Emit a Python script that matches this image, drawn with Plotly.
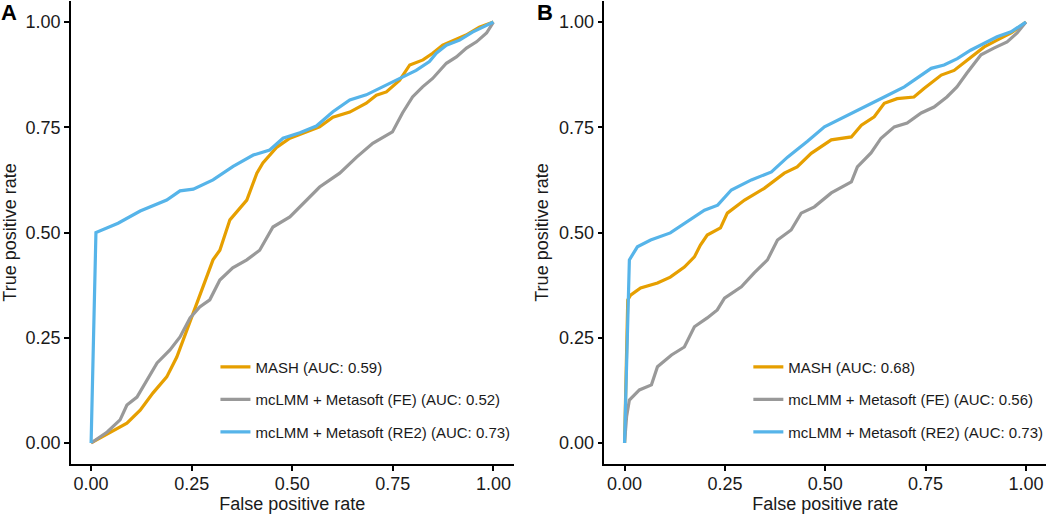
import plotly.graph_objects as go

# ---------------- data ----------------
labels_a = ["MASH (AUC: 0.59)", "mcLMM + Metasoft (FE) (AUC: 0.52)", "mcLMM + Metasoft (RE2) (AUC: 0.73)"]
labels_b = ["MASH (AUC: 0.68)", "mcLMM + Metasoft (FE) (AUC: 0.56)", "mcLMM + Metasoft (RE2) (AUC: 0.73)"]
colors = ["#E69F00", "#999999", "#56B4E9"]

# Panel A
a_mash_fpr = [0.0, 0.047, 0.089, 0.122, 0.154, 0.188, 0.213, 0.238, 0.263, 0.278, 0.295, 0.303, 0.320, 0.345, 0.387,
              0.412, 0.427, 0.462, 0.494, 0.536, 0.568, 0.601, 0.643, 0.684, 0.709, 0.734, 0.767, 0.792, 0.825,
              0.849, 0.874, 0.932, 0.965, 1.0]
a_mash_tpr = [0.0, 0.024, 0.047, 0.078, 0.119, 0.157, 0.204, 0.268, 0.332, 0.371, 0.411, 0.435, 0.458, 0.530, 0.577,
              0.641, 0.665, 0.703, 0.724, 0.739, 0.751, 0.774, 0.786, 0.807, 0.826, 0.834, 0.862, 0.898, 0.910,
              0.926, 0.945, 0.969, 0.988, 1.0]

a_fe_fpr = [0.0, 0.040, 0.072, 0.089, 0.114, 0.139, 0.164, 0.196, 0.221, 0.246, 0.270, 0.295, 0.320, 0.352, 0.387,
            0.419, 0.452, 0.494, 0.536, 0.568, 0.618, 0.660, 0.700, 0.749, 0.774, 0.799, 0.824, 0.849, 0.883,
            0.908, 0.933, 0.958, 0.983, 1.0]
a_fe_tpr = [0.0, 0.026, 0.055, 0.090, 0.109, 0.150, 0.190, 0.221, 0.252, 0.297, 0.323, 0.340, 0.387, 0.416, 0.435,
            0.458, 0.513, 0.537, 0.577, 0.608, 0.641, 0.679, 0.712, 0.739, 0.784, 0.822, 0.846, 0.866, 0.902,
            0.917, 0.938, 0.953, 0.974, 1.0]

a_re2_fpr = [0.0, 0.012, 0.067, 0.122, 0.188, 0.221, 0.254, 0.303, 0.353, 0.403, 0.444, 0.477, 0.519, 0.560, 0.601,
             0.643, 0.684, 0.726, 0.767, 0.808, 0.841, 0.858, 0.883, 0.916, 0.948, 1.0]
a_re2_tpr = [0.0, 0.500, 0.522, 0.551, 0.577, 0.599, 0.603, 0.625, 0.657, 0.684, 0.696, 0.724, 0.737, 0.753, 0.787,
             0.815, 0.827, 0.847, 0.866, 0.885, 0.906, 0.926, 0.945, 0.957, 0.976, 1.0]

# Panel B
b_mash_fpr = [0.0, 0.008, 0.015, 0.040, 0.082, 0.114, 0.149, 0.174, 0.189, 0.206, 0.239, 0.256, 0.299, 0.348, 0.398,
              0.430, 0.465, 0.515, 0.565, 0.590, 0.622, 0.647, 0.679, 0.721, 0.746, 0.789, 0.821, 0.853, 0.896,
              0.928, 0.963, 1.0]
b_mash_tpr = [0.0, 0.340, 0.351, 0.368, 0.380, 0.394, 0.418, 0.442, 0.470, 0.494, 0.511, 0.546, 0.577, 0.605, 0.641,
              0.656, 0.688, 0.720, 0.727, 0.755, 0.775, 0.807, 0.818, 0.822, 0.842, 0.874, 0.885, 0.909, 0.941,
              0.957, 0.974, 1.0]

b_fe_fpr = [0.0, 0.005, 0.012, 0.037, 0.067, 0.082, 0.117, 0.149, 0.174, 0.206, 0.231, 0.249, 0.291, 0.323, 0.356,
            0.381, 0.415, 0.440, 0.473, 0.515, 0.565, 0.580, 0.614, 0.639, 0.672, 0.704, 0.739, 0.771, 0.803,
            0.828, 0.853, 0.888, 0.920, 0.953, 0.978, 1.0]
b_fe_tpr = [0.0, 0.062, 0.102, 0.126, 0.138, 0.181, 0.209, 0.228, 0.276, 0.297, 0.316, 0.344, 0.371, 0.404, 0.435,
            0.482, 0.506, 0.546, 0.561, 0.594, 0.620, 0.656, 0.689, 0.724, 0.751, 0.760, 0.784, 0.798, 0.822,
            0.846, 0.879, 0.922, 0.938, 0.953, 0.974, 1.0]

b_re2_fpr = [0.0, 0.012, 0.032, 0.065, 0.114, 0.149, 0.199, 0.232, 0.266, 0.316, 0.366, 0.406, 0.455, 0.498, 0.547,
             0.597, 0.647, 0.697, 0.729, 0.764, 0.796, 0.829, 0.862, 0.903, 0.928, 0.963, 1.0]
b_re2_tpr = [0.0, 0.435, 0.466, 0.482, 0.499, 0.522, 0.553, 0.565, 0.601, 0.625, 0.644, 0.679, 0.716, 0.751, 0.775,
             0.798, 0.822, 0.846, 0.866, 0.890, 0.898, 0.913, 0.933, 0.953, 0.965, 0.977, 1.0]

tick_vals = [0.0, 0.25, 0.5, 0.75, 1.0]
tick_text = ["0.00", "0.25", "0.50", "0.75", "1.00"]

# ---------------- figure ----------------
fig = go.Figure()
FONT = "Liberation Sans, Arial, sans-serif"

panel_a = [(a_mash_fpr, a_mash_tpr), (a_fe_fpr, a_fe_tpr), (a_re2_fpr, a_re2_tpr)]
panel_b = [(b_mash_fpr, b_mash_tpr), (b_fe_fpr, b_fe_tpr), (b_re2_fpr, b_re2_tpr)]

for i, ((fx, ty), name) in enumerate(zip(panel_a, labels_a)):
    fig.add_trace(go.Scatter(x=fx, y=ty, mode="lines", name=name, line=dict(color=colors[i], width=3.2),
                             xaxis="x", yaxis="y", legend="legend", legendgroup=f"a{i}"))
for i, ((fx, ty), name) in enumerate(zip(panel_b, labels_b)):
    fig.add_trace(go.Scatter(x=fx, y=ty, mode="lines", name=name, line=dict(color=colors[i], width=3.2),
                             xaxis="x2", yaxis="y2", legend="legend2", legendgroup=f"b{i}"))

axis_common = dict(range=[-0.05, 1.05], tickvals=tick_vals, ticktext=tick_text, showgrid=False, zeroline=False,
                   showline=True, linecolor="black", linewidth=1.5, ticks="outside", ticklen=5, tickwidth=1.5,
                   tickcolor="black", automargin=False,
                   tickfont=dict(size=18, color="#1a1a1a", family=FONT))

legend_common = dict(font=dict(size=15, color="#1a1a1a", family=FONT), bgcolor="rgba(0,0,0,0)",
                     tracegroupgap=10, traceorder="grouped", xanchor="left", yanchor="top")

fig.update_layout(
    template="none",
    width=1050, height=514,
    margin=dict(l=71, r=3, t=1, b=50, autoexpand=False),
    paper_bgcolor="white", plot_bgcolor="white",
    font=dict(family=FONT, color="#1a1a1a"),
    xaxis=dict(domain=[0.0, 0.4534], anchor="y", ticklabelstandoff=-2,
               title=dict(text="False positive rate", font=dict(size=18), standoff=6), **axis_common),
    yaxis=dict(domain=[0.0, 1.0], anchor="x",
               title=dict(text="True positive rate", font=dict(size=18), standoff=6), **axis_common),
    xaxis2=dict(domain=[0.5466, 0.9990], anchor="y2", ticklabelstandoff=-2,
                title=dict(text="False positive rate", font=dict(size=18), standoff=6), **axis_common),
    yaxis2=dict(domain=[0.0, 1.0], anchor="x2",
                title=dict(text="True positive rate", font=dict(size=18), standoff=6), **axis_common),
    legend=dict(x=0.148, y=0.245, **legend_common),
    legend2=dict(x=0.694, y=0.245, **legend_common),
    annotations=[
        dict(text="<b>A</b>", x=9, y=12, xref="paper", yref="paper", showarrow=False,
             font=dict(size=22, color="black", family=FONT)),
        dict(text="<b>B</b>", x=545, y=12, xref="paper", yref="paper", showarrow=False,
             font=dict(size=22, color="black", family=FONT)),
    ],
    showlegend=True,
)

# convert pixel positions of panel letters to paper coordinates
pw = 1050 - 71 - 3
ph = 514 - 1 - 50
for ann in fig.layout.annotations:
    ann.x = (ann.x - 71) / pw
    ann.y = (514 - 50 - ann.y) / ph
    ann.xanchor = "center"
    ann.yanchor = "middle"

# remove the browser's default page margin so the figure fills the window exactly
fig.write_html("out.html", config={"displayModeBar": False},
               post_script="document.body.style.margin='0';document.body.style.overflow='hidden';")
